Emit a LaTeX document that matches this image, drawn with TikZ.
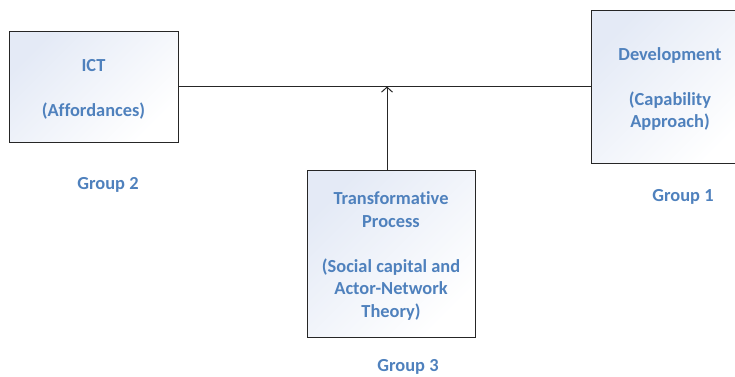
\documentclass[tikz,border=0pt]{standalone}
\usepackage{fontspec}
\setmainfont{Carlito}[Ligatures=NoCommon]
\usepackage{tikz}
\usepackage{xcolor}
\usetikzlibrary{arrows.meta, positioning, shadows}
\definecolor{textblue}{HTML}{4F81BD}
\definecolor{fillblue}{HTML}{E4EAF6}
\newcommand{\topstrut}{\rule{0pt}{18pt}}

\begin{document}
\begin{tikzpicture}[
            x=1pt, y=1pt,
            box/.style={rectangle, draw=black!85, line width=1pt, align=center, inner sep=0pt,
                top color=fillblue, bottom color=white, shading angle=45,
                drop shadow={shadow xshift=1pt, shadow yshift=-1pt, opacity=0.25},
                text=textblue, font=\fontsize{18.4}{22.5}\selectfont\bfseries},
            arrow/.style={-{Straight Barb[length=5pt, width=11pt]}, line width=1pt, black!85},
            grouplabel/.style={text=textblue, font=\fontsize{18.4}{22.5}\selectfont\bfseries}
        ]
            \useasboundingbox (0,0) rectangle (735,376);

% Factor boxes
            \node[box, minimum width=169, minimum height=111] (ict) at (93.5,289.5) {\topstrut ICT\\\mbox{}\\(Affordances)};
            \node[box, minimum width=158, minimum height=153] (dev) at (670,289.5) {\topstrut Development\\\mbox{}\\(Capability\\Approach)};
            \node[box, minimum width=168, minimum height=167] (trans) at (391,122.5) {\topstrut Transformative\\Process\\\mbox{}\\(Social capital and\\Actor-Network\\Theory)};

% Links
            \coordinate (junc) at (387,289.5);
            \draw[line width=1pt, black!85] (ict) -- (dev);
            \draw[arrow] (trans.north -| junc) -- (junc);

% Group labels
            \node[grouplabel] (g2) at (108,191) {Group 2};
            \node[grouplabel] (g1) at (683,179) {Group 1};
            \node[grouplabel] (g3) at (408,9) {Group 3};

        \end{tikzpicture}
\end{document}
